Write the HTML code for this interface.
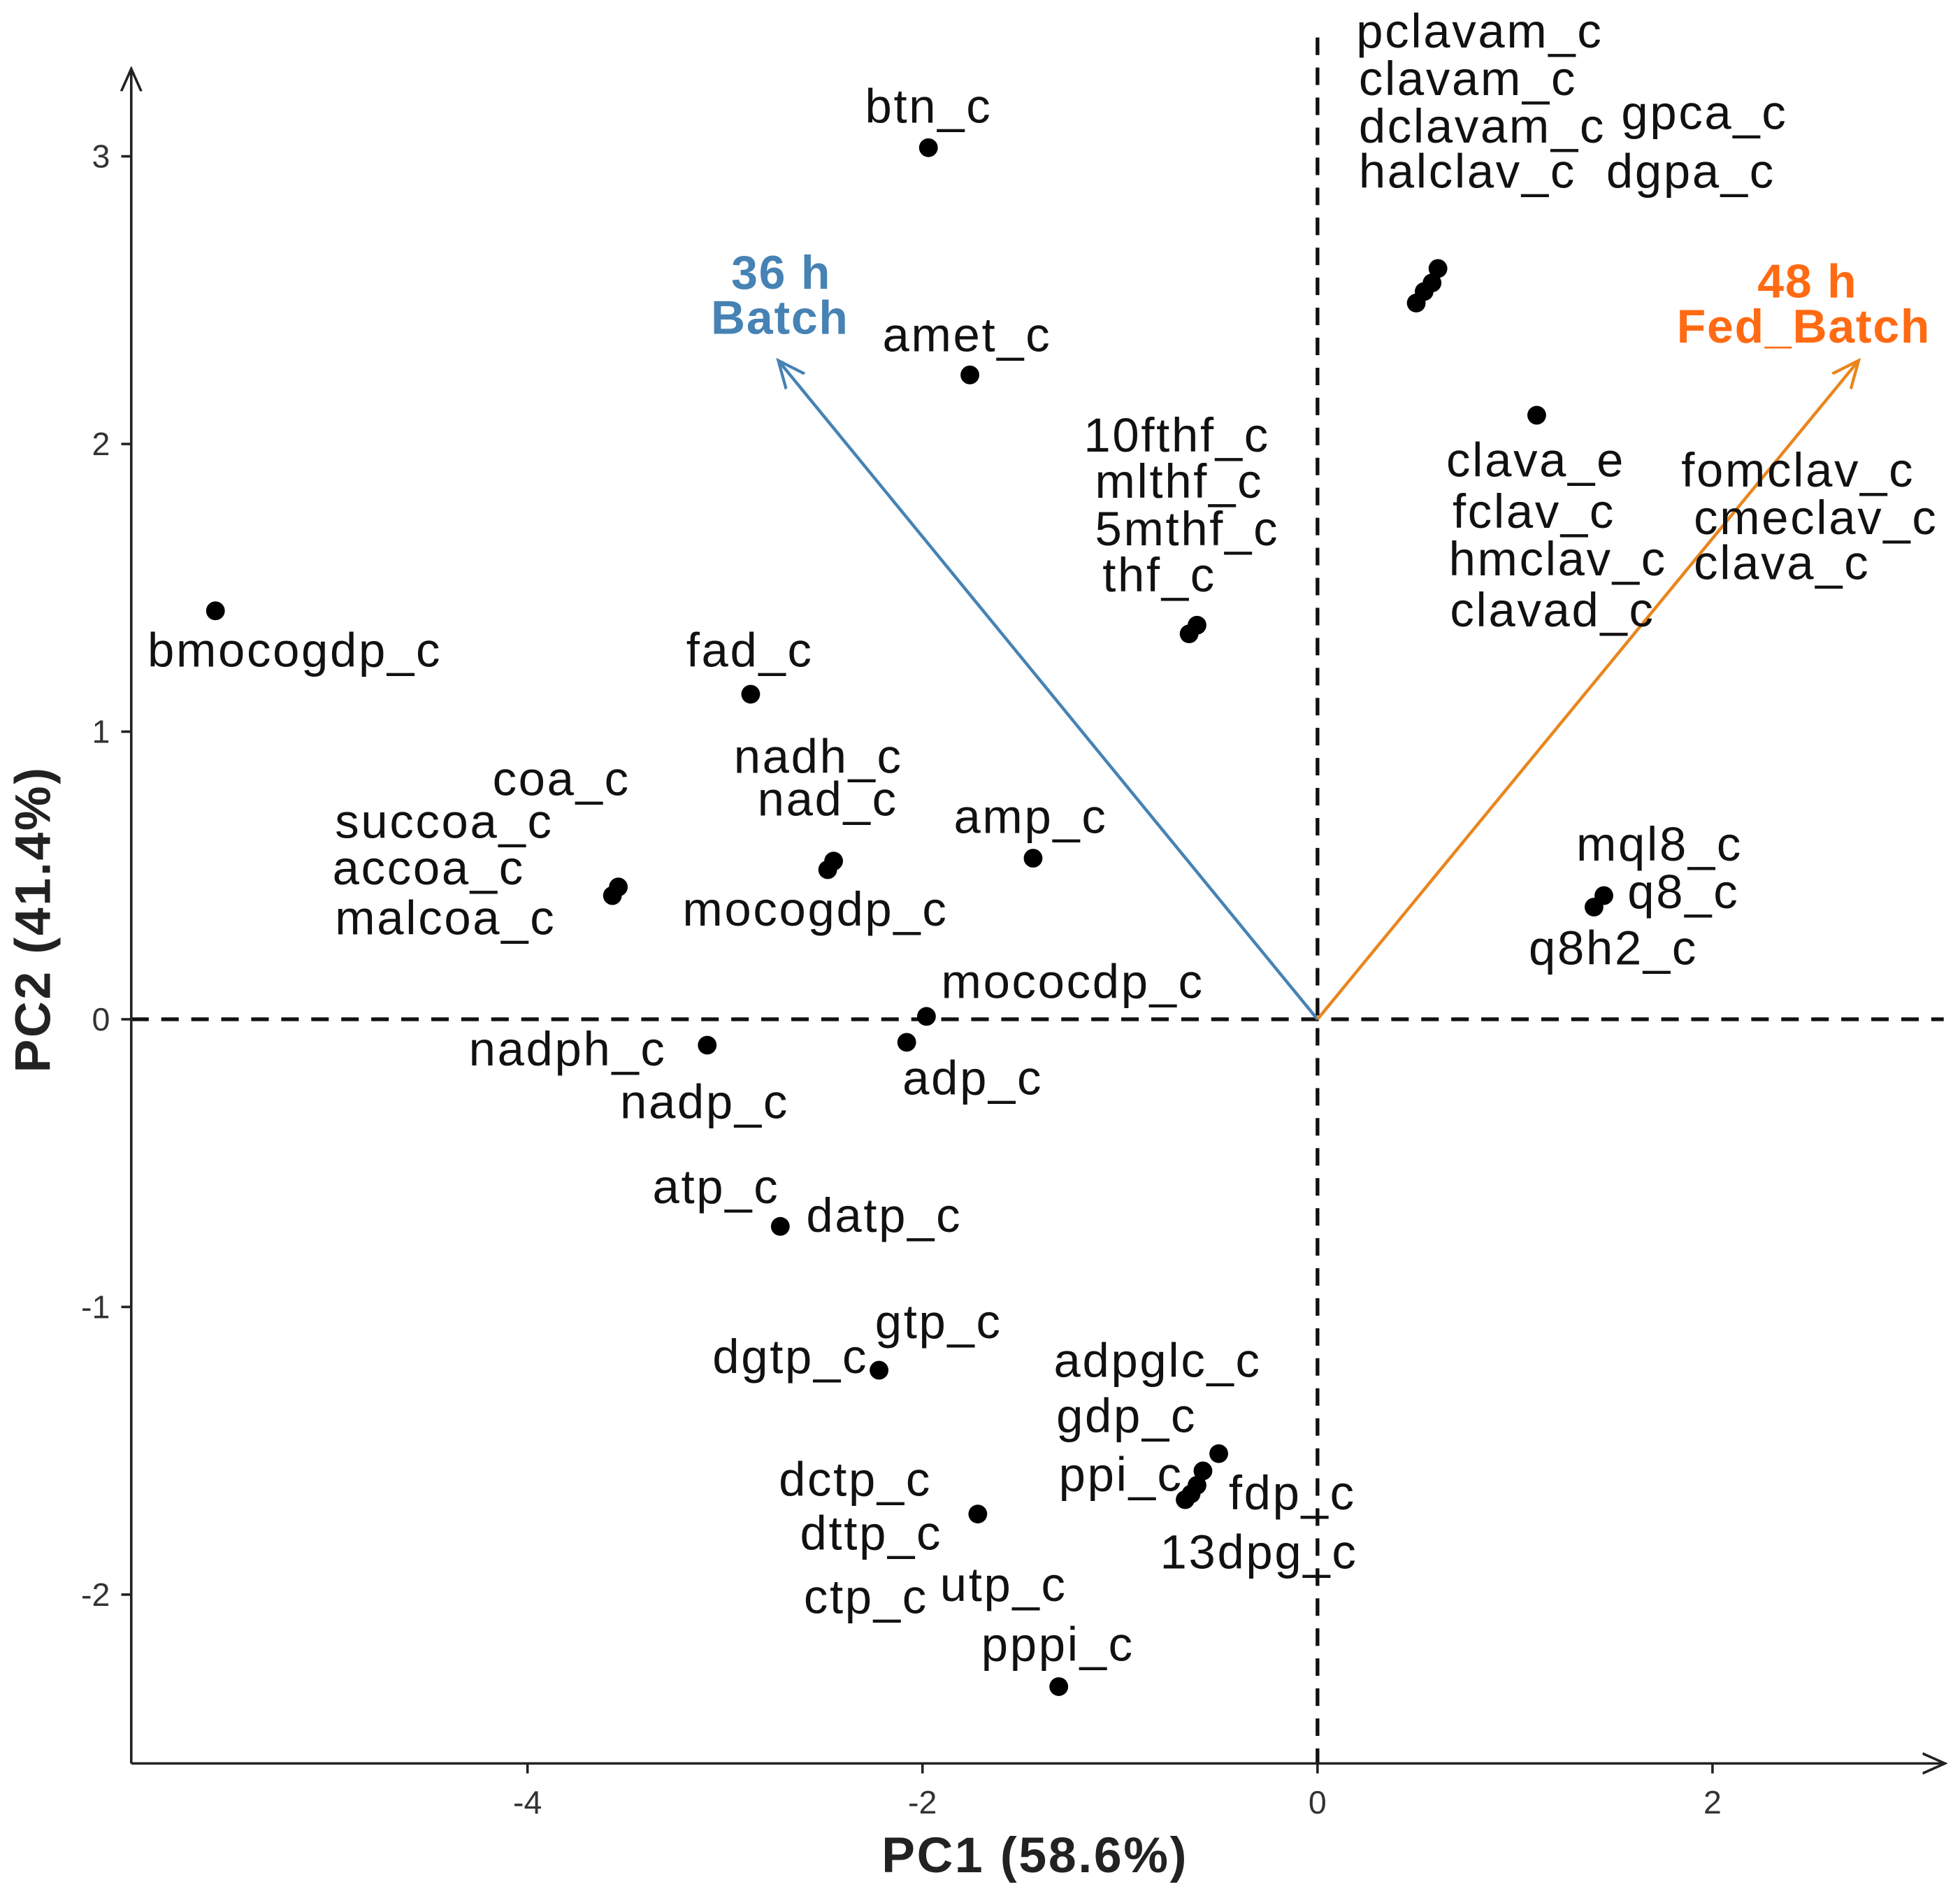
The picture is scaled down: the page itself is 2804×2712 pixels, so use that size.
<!DOCTYPE html>
<html><head><meta charset="utf-8"><style>
html,body{margin:0;padding:0;background:#fff}
svg{display:block}
text{font-family:"Liberation Sans",Arial,sans-serif}
</style></head><body>
<svg id="chart" width="2804" height="2712" viewBox="0 0 1568 1516" preserveAspectRatio="none" xmlns="http://www.w3.org/2000/svg">
<defs>
<marker id="ah" viewBox="0 0 20 20" refX="18" refY="10" markerWidth="20" markerHeight="20" markerUnits="userSpaceOnUse" orient="auto"><path d="M0,2 L18,10 L0,18" fill="none" stroke="#222" stroke-width="2"/></marker>
<marker id="ahb" viewBox="0 0 20 20" refX="18" refY="10" markerWidth="24" markerHeight="24" markerUnits="userSpaceOnUse" orient="auto"><path d="M0,2 L18,10 L0,18" fill="none" stroke="#4682B4" stroke-width="2"/></marker>
<marker id="aho" viewBox="0 0 20 20" refX="18" refY="10" markerWidth="24" markerHeight="24" markerUnits="userSpaceOnUse" orient="auto"><path d="M0,2 L18,10 L0,18" fill="none" stroke="#E8861E" stroke-width="2"/></marker>
</defs>
<g id="grid"></g>
<g id="marks"></g>
<g id="labels" font-size="38.5" letter-spacing="1.5" fill="#111"></g>
</svg>
<script>
const pointX = [-1.97,-1.76,-5.58,-2.87,-3.57,-3.54,-2.48,-2.45,-1.44,-1.98,-2.08,-3.09,-2.72,-2.22,-1.72,-1.31,-0.50,-0.58,-0.61,-0.64,-0.67,-0.65,-0.61,0.50,0.54,0.58,0.61,1.11,1.40,1.45];
const pointY = [3.03,2.24,1.42,1.13,0.43,0.46,0.52,0.55,0.56,0.01,-0.08,-0.09,-0.72,-1.22,-1.72,-2.32,-1.51,-1.57,-1.62,-1.65,-1.67,1.34,1.37,2.49,2.53,2.56,2.61,2.10,0.39,0.43];
const vecNames = ["36 h Batch","48 h Fed_Batch"];
const vecX = [-2.73,2.74];
const vecY = [2.29,2.29];
const xTicks = [-4,-2,0,2];
const yTicks = [-2,-1,0,1,2,3];

const NS="http://www.w3.org/2000/svg";
const sx = v => 1054 + v*158;
const sy = v => 815 - v*230;
function mk(tag, attrs, parent){const e=document.createElementNS(NS,tag);for(const k in attrs)e.setAttribute(k,attrs[k]);parent.appendChild(e);return e;}
const grid=document.getElementById('grid'), marks=document.getElementById('marks'), labels=document.getElementById('labels');

let e;
e=mk('line',{x1:sx(0),y1:30,x2:sx(0),y2:1410,stroke:'#111','stroke-width':3,'stroke-dasharray':'14,10'},grid);


e=mk('line',{x1:105,y1:sy(0),x2:1555,y2:sy(0),stroke:'#111','stroke-width':3,'stroke-dasharray':'14,10'},grid);


e=mk('line',{x1:105,y1:1410,x2:105,y2:55,stroke:'#222','stroke-width':2,'marker-end':'url(#ah)'},grid);


e=mk('line',{x1:105,y1:1410,x2:1556,y2:1410,stroke:'#222','stroke-width':2,'marker-end':'url(#ah)'},grid);


yTicks.forEach(t=>{
  e=mk('line',{x1:97,y1:sy(t),x2:105,y2:sy(t),stroke:'#222','stroke-width':2},grid);
  
  
  e=mk('text',{x:88,y:sy(t)+9,'text-anchor':'end','font-size':26,fill:'#333'},grid);
  e.textContent=t;
  
  
});
xTicks.forEach(t=>{
  e=mk('line',{x1:sx(t),y1:1410,x2:sx(t),y2:1418,stroke:'#222','stroke-width':2},grid);
  
  
  e=mk('text',{x:sx(t),y:1450,'text-anchor':'middle','font-size':26,fill:'#333'},grid);
  e.textContent=t;
  
  
});
e=mk('text',{x:828,y:1497,'text-anchor':'middle','font-size':40,'letter-spacing':1.5,'font-weight':'bold',fill:'#222'},grid);
e.textContent='PC1 (58.6%)';


e=mk('text',{x:0,y:0,'text-anchor':'middle','font-size':40,'letter-spacing':1.5,'font-weight':'bold',fill:'#222',transform:'translate(40,735) rotate(-90)'},grid);
e.textContent='PC2 (41.4%)';



const vcol=['#4682B4','#E8861E'], vmark=['url(#ahb)','url(#aho)'];
vecX.forEach((v,i)=>{
  e=mk('line',{x1:sx(0),y1:sy(0),x2:sx(v),y2:sy(vecY[i]),stroke:vcol[i],'stroke-width':2.5,'marker-end':vmark[i]},marks);
  
  
});
pointX.forEach((v,i)=>{
  e=mk('circle',{cx:sx(v),cy:sy(pointY[i]),r:7.5,fill:'#000'},marks);
  
  
});

// labels: [text, left x, center y]
const lab=[["pclavam_c",1085,25],["clavam_c",1087,63],["dclavam_c",1087,101],["halclav_c",1087,137],["gpca_c",1297,90],["dgpa_c",1285,137],
["btn_c",692,85],["amet_c",706,268],["10fthf_c",867,348],["mlthf_c",876,385],["5mthf_c",876,423],["thf_c",882,460],
["clava_e",1157,368],["fclav_c",1162,409],["hmclav_c",1159,447],["clavad_c",1160,488],["fomclav_c",1345,376],["cmeclav_c",1355,414],["clava_c",1355,450],
["bmocogdp_c",118,520],["fad_c",549,520],["coa_c",394,623],["succoa_c",268,657],["accoa_c",266,694],["malcoa_c",268,734],
["nadh_c",587,605],["nad_c",606,639],["amp_c",763,653],["mocogdp_c",546,727],["mql8_c",1261,675],["q8_c",1302,713],["q8h2_c",1223,758],
["mococdp_c",753,785],["nadph_c",375,839],["adp_c",722,862],["nadp_c",496,881],["atp_c",522,949],["datp_c",645,972],
["gtp_c",700,1057],["dgtp_c",570,1085],["adpglc_c",843,1088],["gdp_c",845,1132],["ppi_c",847,1179],["fdp_c",983,1194],["13dpg_c",928,1241],
["dctp_c",623,1183],["dttp_c",640,1226],["ctp_c",643,1277],["utp_c",752,1267],["pppi_c",785,1315]];
lab.forEach(l=>{
  e=mk('text',{x:l[1],y:l[2]+13},labels);
  e.textContent=l[0];
  
  
});
const vl=[["36 h",625,218,'#4682B4'],["Batch",624,254,'#4682B4'],["48 h",1446,225,'#FF6A13'],["Fed_Batch",1443,261,'#FF6A13']];
vl.forEach(l=>{
  e=mk('text',{x:l[1],y:l[2]+13,'text-anchor':'middle','font-weight':'bold','font-size':38,'letter-spacing':1,fill:l[3]},labels);
  e.textContent=l[0];
  
  
});
</script>
</body></html>
